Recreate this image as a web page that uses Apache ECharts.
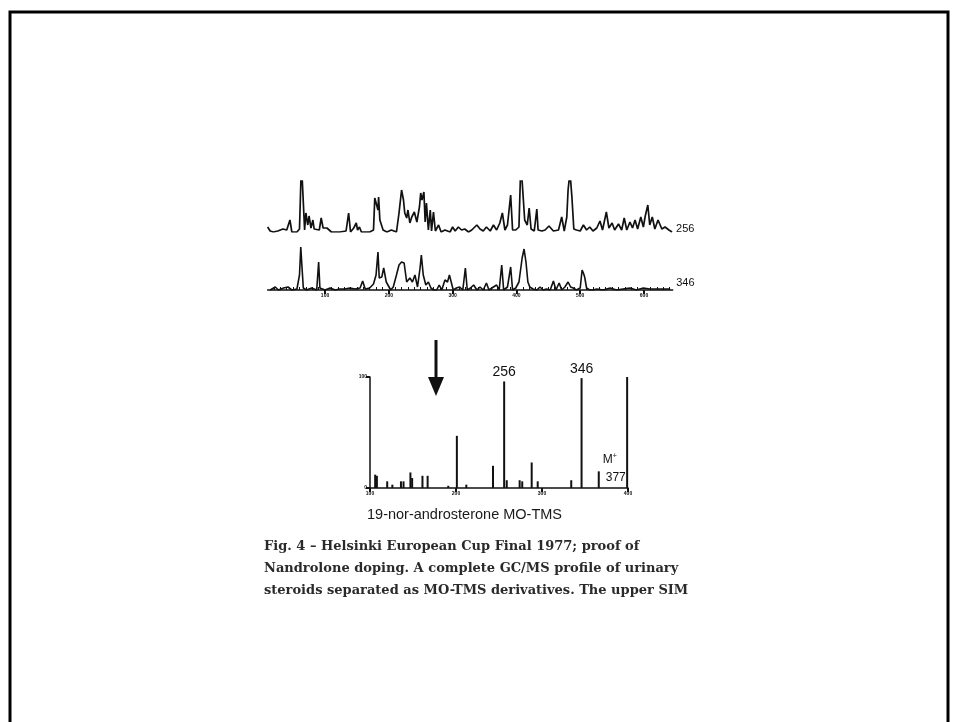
<!DOCTYPE html>
<html>
<head>
<meta charset="utf-8">
<title>GC/MS profile</title>
<script src="https://cdn.jsdelivr.net/npm/echarts@6/dist/echarts.min.js"></script>
<style>
  html, body { margin: 0; padding: 0; background: #fff; }
  #chart { width: 957px; height: 722px; }
</style>
</head>
<body>
<div id="chart"></div>
<script>
// SIM trace m/z 256 : [scan, intensity]  (peaks above 51 run off the top of the scan)
var trace256 = [
  [10, 5], [14, 1], [19, 0], [26, 1], [34, 3], [40, 2], [45, 12], [48, 0], [56, 0], [60, 3],
  [63, 70], [65, 70], [68, 2], [70, 19], [73, 7], [75, 16], [78, 4], [81, 12], [83, 3], [86, 4],
  [91, 2], [94, 14], [97, 4], [103, 4], [110, 0], [123, 0], [133, 1], [137, 19], [140, 0], [145, 4],
  [149, 9], [151, 2], [154, 5], [157, 0], [170, 0], [176, 2], [178, 34], [181, 36], [183, 22], [184, 35],
  [186, 12], [189, 14], [191, 2], [197, 0], [204, 2], [212, 0], [216, 19], [220, 42], [223, 32], [225, 19],
  [228, 14], [230, 22], [233, 9], [236, 15], [240, 20], [244, 10], [248, 25], [250, 39], [252, 32], [255, 40],
  [257, 10], [259, 29], [262, 2], [265, 22], [267, 1], [270, 20], [273, 1], [278, 7], [282, 0], [288, 2],
  [296, 0], [300, 5], [304, 1], [309, 5], [314, 2], [319, 3], [325, 0], [330, 2], [338, 7], [343, 3],
  [348, 1], [353, 5], [359, 1], [364, 7], [369, 2], [374, 9], [378, 19], [382, 2], [386, 7], [391, 37],
  [394, 2], [399, 2], [404, 5], [407, 70], [410, 70], [413, 12], [417, 7], [420, 24], [423, 3], [428, 1],
  [432, 23], [434, 2], [440, 1], [445, 2], [451, 6], [458, 1], [466, 2], [471, 15], [475, 1], [479, 15],
  [481, 42], [484, 60], [487, 35], [490, 3], [494, 2], [500, 1], [505, 7], [510, 2], [515, 5], [520, 1],
  [526, 4], [531, 11], [535, 2], [541, 20], [545, 4], [550, 9], [554, 2], [560, 8], [565, 2], [569, 14],
  [573, 2], [578, 10], [582, 4], [586, 12], [590, 3], [595, 15], [599, 5], [602, 16], [606, 27], [609, 7],
  [613, 15], [617, 3], [622, 12], [628, 3], [633, 5], [639, 2], [644, 0]
];

// SIM trace m/z 346 : [scan, intensity]
var trace346 = [
  [14, 0], [22, 3], [27, 0], [35, 2], [42, 3], [48, 0], [56, 1], [60, 15], [62, 43], [64, 22],
  [66, 2], [71, 0], [79, 2], [87, 0], [90, 28], [92, 2], [100, 0], [108, 2], [116, 0], [123, 1],
  [131, 1], [139, 2], [147, 1], [155, 2], [159, 9], [163, 1], [170, 2], [176, 6], [180, 15], [183, 38],
  [185, 12], [189, 13], [192, 22], [196, 8], [199, 7], [203, 0], [207, 3], [212, 15], [216, 25], [220, 28],
  [224, 27], [228, 8], [233, 12], [237, 8], [241, 15], [245, 3], [249, 22], [251, 35], [254, 15], [258, 5],
  [262, 8], [266, 2], [270, 0], [275, 0], [279, 5], [283, 0], [288, 10], [292, 8], [295, 15], [297, 10],
  [301, 0], [306, 2], [311, 3], [316, 0], [320, 22], [323, 0], [328, 2], [333, 5], [338, 0], [343, 3],
  [348, 0], [353, 7], [357, 0], [364, 3], [369, 5], [373, 0], [377, 25], [380, 0], [386, 3], [391, 23],
  [394, 0], [399, 2], [404, 8], [409, 32], [412, 41], [415, 28], [418, 8], [421, 3], [426, 1], [432, 0],
  [437, 3], [442, 0], [447, 1], [453, 0], [458, 9], [462, 0], [467, 7], [471, 0], [476, 3], [481, 8],
  [485, 3], [489, 2], [494, 0], [500, 2], [503, 20], [505, 17], [507, 13], [510, 2], [515, 0], [520, 0],
  [526, 1], [536, 0], [547, 2], [557, 0], [567, 1], [578, 2], [588, 0], [599, 2], [609, 1], [620, 1],
  [630, 1], [641, 1]
];

var scanTicks = [100, 200, 300, 400, 500, 600];
var scanMinorTicks = [20, 30, 40, 50, 60, 70, 80, 90, 110, 120, 130, 140, 150, 160, 170, 180, 190,
  210, 220, 230, 240, 250, 260, 270, 280, 290, 310, 320, 330, 340, 350, 360, 370, 380, 390,
  410, 420, 430, 440, 450, 460, 470, 480, 490, 510, 520, 530, 540, 550, 560, 570, 580, 590,
  610, 620, 630, 640];

// mass spectrum of 19-nor-androsterone MO-TMS
var specMz = [106, 108, 120, 126, 136, 139, 147, 149, 161, 167, 191, 201, 212, 243, 256, 259,
  274, 277, 288, 295, 334, 346, 366, 399];
var specInt = [12, 11, 6, 3, 6, 6, 14, 9, 11, 11, 2, 47, 3, 20, 96, 7,
  7, 6, 23, 6, 7, 99, 15, 100];
var labelledMz = [256, 346];
var molIonMz = 366;

var ink = '#111';
var chart = echarts.init(document.getElementById('chart'));

var specData = specMz.map(function (mz, i) {
  var item = { value: [mz, specInt[i]] };
  if (labelledMz.indexOf(mz) >= 0) {
    item.label = {
      show: true, position: 'top', distance: 2,
      fontFamily: 'Liberation Sans', fontSize: 14, color: ink,
      formatter: function (p) { return p.value[0]; }
    };
  }
  if (mz === molIonMz) {
    item.label = {
      show: true, position: [5, -21],
      formatter: '{m|M}{p|+}\n{n|377}',
      rich: {
        m: { fontFamily: 'Liberation Sans', fontSize: 12, color: ink, lineHeight: 18 },
        p: { fontFamily: 'Liberation Sans', fontSize: 7, color: ink, padding: [0, 0, 7, 0] },
        n: { fontFamily: 'Liberation Sans', fontSize: 12, color: ink, lineHeight: 18, padding: [0, 0, 0, 3] }
      }
    };
  }
  return item;
});

var tinyLabel = { fontSize: 5, fontWeight: 'bold', color: ink, margin: 3 };

chart.setOption({
  animation: false,
  backgroundColor: '#fff',
  title: [{
    text: '19-nor-androsterone MO-TMS',
    left: 362, top: 502,
    textStyle: { fontFamily: 'Liberation Sans', fontSize: 14.5, fontWeight: 'normal', color: '#1a1a1a', lineHeight: 16 }
  }, {
    text: 'Fig. 4 \u2013 Helsinki European Cup Final 1977; proof of\nNandrolone doping. A complete GC/MS profile of urinary\nsteroids separated as MO-TMS derivatives. The upper SIM',
    left: 259, top: 531,
    textStyle: { fontFamily: 'DejaVu Serif', fontSize: 13, fontWeight: 'bold', color: '#2a2a2a', lineHeight: 22 }
  }],
  grid: [
    { left: 267.6, right: 284.3, top: 181, bottom: 490 },
    { left: 267.6, right: 284.3, top: 240, bottom: 432 },
    { left: 370, right: 329, top: 377, bottom: 234 }
  ],
  xAxis: [
    { gridIndex: 0, type: 'value', min: 10, max: 645, show: false },
    {
      gridIndex: 1, type: 'value', min: 10, max: 645, position: 'bottom',
      axisLine: { show: true, lineStyle: { color: ink, width: 1.5 } },
      axisTick: { show: true, customValues: scanTicks, length: 4, lineStyle: { color: ink, width: 2 } },
      axisLabel: Object.assign({ customValues: scanTicks }, tinyLabel),
      splitLine: { show: false }
    },
    {
      gridIndex: 1, type: 'value', min: 10, max: 645, position: 'bottom',
      axisLine: { show: false },
      axisTick: { show: true, inside: true, customValues: scanMinorTicks, length: 3, lineStyle: { color: ink, width: 1 } },
      axisLabel: { show: false },
      splitLine: { show: false }
    },
    {
      gridIndex: 2, type: 'value', min: 100, max: 400, interval: 100,
      axisLine: { show: true, lineStyle: { color: ink, width: 1.5 } },
      axisTick: { show: true, length: 4, lineStyle: { color: ink, width: 2 } },
      axisLabel: tinyLabel,
      splitLine: { show: false }
    }
  ],
  yAxis: [
    { gridIndex: 0, type: 'value', min: 0, max: 51, show: false },
    { gridIndex: 1, type: 'value', min: 0, max: 50, show: false },
    {
      gridIndex: 2, type: 'value', min: 0, max: 100, interval: 100,
      axisLine: { show: true, lineStyle: { color: ink, width: 1.5 } },
      axisTick: { show: true, length: 4, lineStyle: { color: ink, width: 2 } },
      axisLabel: tinyLabel,
      splitLine: { show: false }
    }
  ],
  series: [{
    name: '256', type: 'line', xAxisIndex: 0, yAxisIndex: 0,
    data: trace256, showSymbol: false, clip: true,
    lineStyle: { color: ink, width: 1.7 },
    endLabel: { show: true, formatter: '{a}', distance: 4, offset: [0, -3],
      fontFamily: 'Liberation Sans', fontSize: 11, color: ink }
  }, {
    name: '346', type: 'line', xAxisIndex: 1, yAxisIndex: 1,
    data: trace346, showSymbol: false, clip: true,
    lineStyle: { color: ink, width: 1.6 },
    endLabel: { show: true, formatter: '{a}', distance: 6, offset: [0, -6],
      fontFamily: 'Liberation Sans', fontSize: 11, color: ink }
  }, {
    name: 'spectrum', type: 'bar', xAxisIndex: 3, yAxisIndex: 2,
    data: specData, barWidth: 2,
    itemStyle: { color: ink }
  }],
  graphic: [{
    type: 'rect', silent: true,
    shape: { x: 10, y: 12, width: 938, height: 730 },
    style: { fill: null, stroke: '#000', lineWidth: 3 }
  }, {
    type: 'group', silent: true,
    children: [{
      type: 'rect', shape: { x: 434.5, y: 340, width: 3, height: 40 },
      style: { fill: ink }
    }, {
      type: 'polygon', shape: { points: [[428, 377], [444, 377], [436, 396]] },
      style: { fill: ink }
    }]
  }]
});
</script>
</body>
</html>
